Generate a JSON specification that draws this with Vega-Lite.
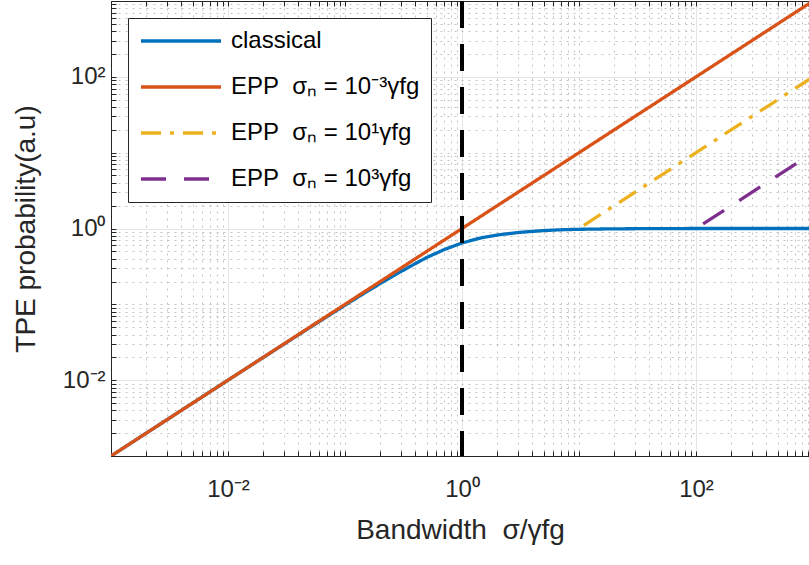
{
  "$schema": "https://vega.github.io/schema/vega-lite/v6.json",
  "width": 698,
  "height": 455,
  "autosize": {"type": "none"},
  "padding": {"left": 111, "top": 1, "right": 0, "bottom": 109},
  "background": "white",
  "config": {
    "font": "Liberation Sans",
    "view": {"stroke": null},
    "axis": {
      "domainColor": "#262626",
      "domainWidth": 1,
      "tickColor": "#262626",
      "tickSize": -5,
      "tickWidth": 1,
      "labelFont": "Liberation Sans",
      "labelFontSize": 24,
      "labelColor": "#262626",
      "labelOverlap": false,
      "labelFlush": false,
      "titleFont": "Liberation Sans",
      "titleFontSize": 28,
      "titleFontWeight": "normal",
      "titleColor": "#262626"
    },
    "legend": {
      "fillColor": "white",
      "strokeColor": "#262626",
      "strokeWidth": 1,
      "padding": 11,
      "cornerRadius": 0,
      "labelFont": "Liberation Sans",
      "labelFontSize": 24,
      "labelColor": "black",
      "labelLimit": 400,
      "symbolType": "stroke",
      "symbolSize": 6400,
      "symbolStrokeWidth": 3.3,
      "labelOffset": 8,
      "rowPadding": 22,
      "clipHeight": 24
    }
  },
  "datasets": {
    "curves": [
      {"series": "classical", "x": 0.001, "y": 0.001},
      {"series": "classical", "x": 0.01, "y": 0.01},
      {"series": "classical", "x": 0.03, "y": 0.0298},
      {"series": "classical", "x": 0.05, "y": 0.0494},
      {"series": "classical", "x": 0.1, "y": 0.0975},
      {"series": "classical", "x": 0.15, "y": 0.144},
      {"series": "classical", "x": 0.2, "y": 0.188},
      {"series": "classical", "x": 0.3, "y": 0.27},
      {"series": "classical", "x": 0.4, "y": 0.345},
      {"series": "classical", "x": 0.5, "y": 0.415},
      {"series": "classical", "x": 0.7, "y": 0.525},
      {"series": "classical", "x": 1, "y": 0.645},
      {"series": "classical", "x": 1.5, "y": 0.76},
      {"series": "classical", "x": 2, "y": 0.82},
      {"series": "classical", "x": 3, "y": 0.885},
      {"series": "classical", "x": 5, "y": 0.94},
      {"series": "classical", "x": 7, "y": 0.962},
      {"series": "classical", "x": 10, "y": 0.976},
      {"series": "classical", "x": 20, "y": 0.99},
      {"series": "classical", "x": 50, "y": 0.997},
      {"series": "classical", "x": 100, "y": 1},
      {"series": "classical", "x": 1000, "y": 1},
      {"series": "EPP\u00a0 σₙ = 10⁻³γfg", "x": 0.001, "y": 0.001},
      {"series": "EPP\u00a0 σₙ = 10⁻³γfg", "x": 1000, "y": 1000},
      {"series": "EPP\u00a0 σₙ = 10¹γfg", "x": 11, "y": 1.1},
      {"series": "EPP\u00a0 σₙ = 10¹γfg", "x": 1000, "y": 100},
      {"series": "EPP\u00a0 σₙ = 10³γfg", "x": 115, "y": 1.15},
      {"series": "EPP\u00a0 σₙ = 10³γfg", "x": 1000, "y": 10}
    ],
    "marker": [{"x": 1}]
  },
  "layer": [
    {
      "data": {"name": "curves"},
      "mark": {"type": "line", "strokeWidth": 3.3, "clip": true},
      "encoding": {
        "x": {
          "field": "x",
          "type": "quantitative",
          "scale": {"type": "log", "domain": [0.001, 924], "nice": false},
          "axis": {
            "orient": "bottom",
            "title": "Bandwidth\u00a0 σ/γfg",
            "titlePadding": 15,
            "values": [0.001,0.002,0.003,0.004,0.005,0.006,0.007,0.008,0.009,0.01,0.02,0.03,0.04,0.05,0.06,0.07,0.08,0.09,0.1,0.2,0.3,0.4,0.5,0.6,0.7,0.8,0.9,1,2,3,4,5,6,7,8,9,10,20,30,40,50,60,70,80,90,100,200,300,400,500,600,700,800,900],
            "labelExpr": "datum.value > 0.0099 && datum.value < 0.0101 ? '10⁻²' : datum.value > 0.99 && datum.value < 1.01 ? '10⁰' : datum.value > 99 && datum.value < 101 ? '10²' : ''",
            "labelPadding": 26,
            "grid": true,
            "gridDash": {"condition": {"test": "abs(log(datum.value)/LN10 - round(log(datum.value)/LN10)) < 0.001 && abs(round(log(datum.value)/LN10)) % 2 == 0", "value": [1, 0]}, "value": [2, 5]},
            "gridColor": {"condition": {"test": "abs(log(datum.value)/LN10 - round(log(datum.value)/LN10)) < 0.001 && abs(round(log(datum.value)/LN10)) % 2 == 0", "value": "#dcdcdc"}, "value": "#c4c4c4"}
          }
        },
        "y": {
          "field": "y",
          "type": "quantitative",
          "scale": {"type": "log", "domain": [0.001, 1000], "nice": false},
          "axis": {
            "title": "TPE probability(a.u)",
            "titlePadding": 22,
            "values": [0.001,0.002,0.003,0.004,0.005,0.006,0.007,0.008,0.009,0.01,0.02,0.03,0.04,0.05,0.06,0.07,0.08,0.09,0.1,0.2,0.3,0.4,0.5,0.6,0.7,0.8,0.9,1,2,3,4,5,6,7,8,9,10,20,30,40,50,60,70,80,90,100,200,300,400,500,600,700,800,900,1000],
            "labelExpr": "datum.value > 0.0099 && datum.value < 0.0101 ? '10⁻²' : datum.value > 0.99 && datum.value < 1.01 ? '10⁰' : datum.value > 99 && datum.value < 101 ? '10²' : ''",
            "labelPadding": 11,
            "grid": true,
            "gridDash": {"condition": {"test": "abs(log(datum.value)/LN10 - round(log(datum.value)/LN10)) < 0.001 && abs(round(log(datum.value)/LN10)) % 2 == 0", "value": [1, 0]}, "value": [2, 5]},
            "gridColor": {"condition": {"test": "abs(log(datum.value)/LN10 - round(log(datum.value)/LN10)) < 0.001 && abs(round(log(datum.value)/LN10)) % 2 == 0", "value": "#dcdcdc"}, "value": "#c4c4c4"}
          }
        },
        "color": {
          "field": "series",
          "type": "nominal",
          "scale": {
            "domain": ["classical", "EPP\u00a0 σₙ = 10⁻³γfg", "EPP\u00a0 σₙ = 10¹γfg", "EPP\u00a0 σₙ = 10³γfg"],
            "range": ["#0072BD", "#D95319", "#EDB120", "#7E2F8E"]
          },
          "legend": {"title": null, "orient": "top-left", "offset": 17}
        },
        "strokeDash": {
          "field": "series",
          "type": "nominal",
          "scale": {
            "domain": ["classical", "EPP\u00a0 σₙ = 10⁻³γfg", "EPP\u00a0 σₙ = 10¹γfg", "EPP\u00a0 σₙ = 10³γfg"],
            "range": [[1, 0], [1, 0], [20, 9, 4, 9], [25, 18]]
          },
          "legend": {"title": null, "orient": "top-left", "offset": 17}
        }
      }
    },
    {
      "data": {"name": "marker"},
      "mark": {"type": "rule", "strokeWidth": 4, "color": "black", "strokeDash": [27, 16]},
      "encoding": {
        "x": {
          "field": "x",
          "type": "quantitative",
          "axis": {
            "orient": "top",
            "title": null,
            "labels": false,
            "grid": false,
            "values": [0.001,0.002,0.003,0.004,0.005,0.006,0.007,0.008,0.009,0.01,0.02,0.03,0.04,0.05,0.06,0.07,0.08,0.09,0.1,0.2,0.3,0.4,0.5,0.6,0.7,0.8,0.9,1,2,3,4,5,6,7,8,9,10,20,30,40,50,60,70,80,90,100,200,300,400,500,600,700,800,900]
          }
        }
      }
    }
  ],
  "resolve": {"axis": {"x": "independent"}}
}
